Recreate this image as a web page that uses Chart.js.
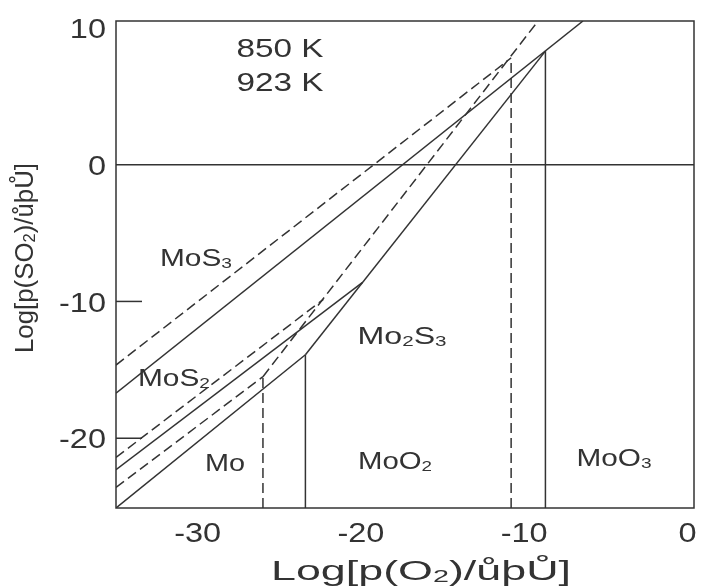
<!DOCTYPE html>
<html>
<head>
<meta charset="utf-8">
<script src="https://cdn.jsdelivr.net/npm/chart.js@4.4.1/dist/chart.umd.min.js"></script>
<style>
  html, body { margin: 0; padding: 0; background: #ffffff; }
  #c { display: block; }
</style>
</head>
<body>
<canvas id="c" width="701" height="588"></canvas>
<script>
// Axis ranges and tick values (log p(O2) on x, log p(SO2) on y)
const xRange = [-35, 0.4];
const yRange = [-25.1, 10.5];
const xTicks = [-30, -20, -10, 0];
const yTicks = [10, 0, -10, -20];
const yInnerTicks = [-10, -20];

// Reference line log p(SO2) = 0
const zero_x = [-35, 0.4];
const zero_y = [0, 0];

// 923 K phase boundaries (solid)
const k923_MoS3_x   = [-35, -6.4];
const k923_MoS3_y   = [-16.7, 10.5];
const k923_MoO2_x   = [-23.4, -8.7];
const k923_MoO2_y   = [-13.9, 8.3];
const k923_Mo2S3_x  = [-35, -19.9];
const k923_Mo2S3_y  = [-22.3, -8.6];
const k923_Mo_x     = [-35, -23.4];
const k923_Mo_y     = [-25.1, -13.9];
const k923_MoV_x    = [-23.4, -23.4];
const k923_MoV_y    = [-25.1, -13.9];
const k923_MoO3_x   = [-8.7, -8.7];
const k923_MoO3_y   = [-25.1, 8.3];

// 850 K phase boundaries (dashed)
const k850_MoS3_x   = [-35, -10.8];
const k850_MoS3_y   = [-14.65, 7.8];
const k850_MoO2_x   = [-26.0, -9.15];
const k850_MoO2_y   = [-15.5, 10.5];
const k850_Mo2S3_x  = [-35, -22.3];
const k850_Mo2S3_y  = [-21.4, -9.85];
const k850_Mo_x     = [-35, -26.0];
const k850_Mo_y     = [-23.6, -15.5];
const k850_MoV_x    = [-26.0, -26.0];
const k850_MoV_y    = [-25.1, -15.5];
const k850_MoO3_x   = [-10.8, -10.8];
const k850_MoO3_y   = [-25.1, 7.8];

// Text placed inside the plot: [segments (odd entries are subscripts), x, y, font size, width]
const notes = [
  [['850 K'],            -24.96,  8.53, 26, 87],
  [['923 K'],            -24.96,  6.04, 26, 87],
  [['MoS', '3'],         -30.10, -6.75, 24, 72],
  [['MoS', '2'],         -31.45, -15.52, 24, 72],
  [['Mo', '2', 'S', '3'], -17.48, -12.45, 24, 89],
  [['Mo'],               -28.32, -21.74, 24, 40],
  [['MoO', '2'],         -17.91, -21.59, 24, 74],
  [['MoO', '3'],          -4.50, -21.37, 24, 75]
];

const xTitle = ['Log[p(O', '2', ')/ůþŮ]'];
const yTitle = ['Log[p(SO', '2', ')/ůþŮ]'];

const INK = '#333333';
const FONT = '"Liberation Sans", Arial, Helvetica, sans-serif';

function pts(xs, ys) { return xs.map((x, i) => ({ x: x, y: ys[i] })); }

function line(xs, ys, dashed) {
  return {
    data: pts(xs, ys),
    showLine: true,
    borderColor: INK,
    borderWidth: 1.5,
    borderDash: dashed ? [10, 5] : [],
    pointRadius: 0,
    fill: false,
    tension: 0
  };
}

function fontOf(size) { return size.toFixed(1) + 'px ' + FONT; }

function richWidth(ctx, segs, size) {
  let w = 0;
  segs.forEach((s, i) => {
    ctx.font = fontOf(i % 2 ? size * 0.64 : size);
    w += ctx.measureText(s).width;
  });
  return w;
}

// Draws text made of normal/subscript runs, centred on its cap height
function drawRich(ctx, segs, cx, cy, size, opt) {
  const natural = richWidth(ctx, segs, size);
  const sx = opt.width ? opt.width / natural : (opt.stretch || 1);
  const align = opt.align || 'center';
  ctx.save();
  ctx.translate(cx, cy);
  if (opt.rotate) ctx.rotate(opt.rotate);
  ctx.scale(sx, 1);
  ctx.fillStyle = INK;
  ctx.textBaseline = 'alphabetic';
  ctx.textAlign = 'left';
  let x = align === 'center' ? -natural / 2 : (align === 'right' ? -natural : 0);
  const base = size * 0.36;
  segs.forEach((s, i) => {
    const sub = i % 2 === 1;
    ctx.font = fontOf(sub ? size * 0.64 : size);
    ctx.fillText(s, x, base + (sub ? size * 0.08 : 0));
    x += ctx.measureText(s).width;
  });
  ctx.restore();
}

const decor = {
  id: 'decor',
  afterDraw(chart) {
    const ctx = chart.ctx;
    const a = chart.chartArea;
    const xs = chart.scales.x, ys = chart.scales.y;

    // plot frame
    ctx.save();
    ctx.strokeStyle = INK;
    ctx.lineWidth = 1.5;
    ctx.strokeRect(a.left, a.top, a.right - a.left, a.bottom - a.top);

    // short inner tick marks on the left axis
    yInnerTicks.forEach(v => {
      const py = ys.getPixelForValue(v);
      ctx.beginPath();
      ctx.moveTo(a.left, py);
      ctx.lineTo(a.left + 26, py);
      ctx.stroke();
    });
    ctx.restore();

    // tick labels
    yTicks.forEach(v => {
      drawRich(ctx, [String(v)], a.left - 10, ys.getPixelForValue(v), 28, { stretch: 1.16, align: 'right' });
    });
    xTicks.forEach(v => {
      drawRich(ctx, [String(v)], xs.getPixelForValue(v), a.bottom + 24, 28, { stretch: 1.16 });
    });

    // phase-field and temperature labels
    notes.forEach(n => {
      drawRich(ctx, n[0], xs.getPixelForValue(n[1]), ys.getPixelForValue(n[2]), n[3], { width: n[4] });
    });

    // axis titles
    drawRich(ctx, xTitle, 421, a.bottom + 62, 27, { width: 300 });
    drawRich(ctx, yTitle, 24, 258, 25, { width: 190, rotate: -Math.PI / 2 });
  }
};

new Chart(document.getElementById('c'), {
  type: 'scatter',
  data: {
    datasets: [
      line(zero_x, zero_y, false),
      line(k923_MoS3_x, k923_MoS3_y, false),
      line(k923_MoO2_x, k923_MoO2_y, false),
      line(k923_Mo2S3_x, k923_Mo2S3_y, false),
      line(k923_Mo_x, k923_Mo_y, false),
      line(k923_MoV_x, k923_MoV_y, false),
      line(k923_MoO3_x, k923_MoO3_y, false),
      line(k850_MoS3_x, k850_MoS3_y, true),
      line(k850_MoO2_x, k850_MoO2_y, true),
      line(k850_Mo2S3_x, k850_Mo2S3_y, true),
      line(k850_Mo_x, k850_Mo_y, true),
      line(k850_MoV_x, k850_MoV_y, true),
      line(k850_MoO3_x, k850_MoO3_y, true)
    ]
  },
  options: {
    responsive: false,
    animation: false,
    devicePixelRatio: 1,
    layout: { padding: { top: 21, right: 7, left: 0, bottom: 0 } },
    plugins: { legend: { display: false }, tooltip: { enabled: false } },
    scales: {
      x: {
        type: 'linear', min: xRange[0], max: xRange[1],
        grid: { display: false }, border: { display: false },
        ticks: { display: false },
        afterFit(s) { s.height = 80; }
      },
      y: {
        type: 'linear', min: yRange[0], max: yRange[1],
        grid: { display: false }, border: { display: false },
        ticks: { display: false },
        afterFit(s) { s.width = 116; }
      }
    }
  },
  plugins: [decor]
});
</script>
</body>
</html>
